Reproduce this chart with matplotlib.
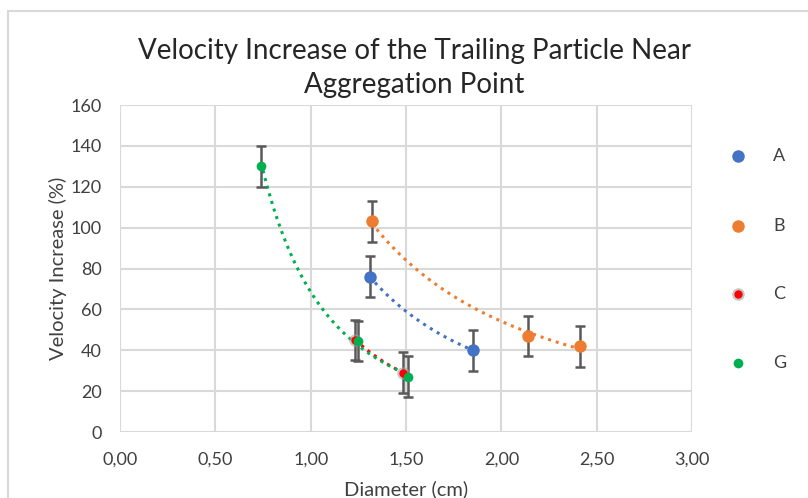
import numpy as np
import matplotlib.pyplot as plt
from matplotlib.patches import Rectangle

plt.rcParams['font.family'] = ['Lato', 'DejaVu Sans']

# data
a_x = [1.31, 1.85]
a_y = [76, 40]
b_x = [1.32, 2.14, 2.41]
b_y = [103, 47, 42]
c_x = [1.235, 1.485]
c_y = [45, 29]
g_x = [0.74, 1.25, 1.51]
g_y = [130, 44.5, 27]
err = 10

series = [
    ('A', a_x, a_y, '#4472c4', 9),
    ('B', b_x, b_y, '#ed7d31', 9),
    ('C', c_x, c_y, '#ff0000', 6),
    ('G', g_x, g_y, '#00b050', 7),
]

fig = plt.figure(figsize=(8.08, 4.98), dpi=100)
fig.patches.append(Rectangle((8 / 808, -0.1), 1.2, 1.1 - 11 / 498,
                             transform=fig.transFigure, fill=False,
                             edgecolor='#d9d9d9', linewidth=1.5))
ax = fig.add_axes([120 / 808, 1 - 432 / 498, (692 - 120) / 808, (432 - 105) / 498])

for name, xs, ys, col, ms in series:
    xs = np.array(xs)
    ys = np.array(ys)
    # power trendline
    k, c = np.polyfit(np.log(xs), np.log(ys), 1)
    xx = np.linspace(xs.min(), xs.max(), 100)
    ax.plot(xx, np.exp(c) * xx ** k, linestyle=(0, (1, 1.6)), color=col,
            linewidth=2.2, zorder=3)
    ax.errorbar(xs, ys, yerr=err, fmt='none', ecolor='#595959',
                elinewidth=1.8, capsize=3.8, capthick=1.8, zorder=4)
    if name == 'C':
        ax.plot(xs, ys, 'o', color='#a0a0a0', markersize=ms + 3, alpha=0.6,
                markeredgewidth=0, zorder=5)
    ax.plot(xs, ys, 'o', color=col, markersize=ms, markeredgewidth=0, zorder=6)

ax.set_xlim(0, 3)
ax.set_ylim(0, 160)
ax.set_xticks(np.arange(0, 3.01, 0.5))
ax.set_xticklabels([('%.2f' % v).replace('.', ',') for v in np.arange(0, 3.01, 0.5)])
ax.set_yticks(np.arange(0, 161, 20))
for s in ax.spines.values():
    s.set_visible(False)
ax.grid(True, color='#d9d9d9', linewidth=1.5, zorder=0)
ax.set_axisbelow(True)
ax.tick_params(length=0, labelsize=13, colors='#404040')
ax.tick_params(axis='y', pad=13)
ax.tick_params(axis='x', pad=14)
for lab in ax.get_xticklabels() + ax.get_yticklabels():
    lab.set_clip_on(False)

ax.set_xlabel('Diameter (cm)', fontsize=14.5, color='#404040', labelpad=9)
ax.set_ylabel('Velocity Increase (%)', fontsize=14.5, color='#404040', labelpad=3)
fig.text(414.5 / 808, 1 - 68 / 498,
         'Velocity Increase of the Trailing Particle Near\nAggregation Point',
         ha='center', va='center', fontsize=20, color='#262626', linespacing=1.42)

# legend drawn by hand on the right
leg_y = [156, 226, 294, 363]
for (name, xs, ys, col, ms), py in zip(series, leg_y):
    yf = 1 - py / 498
    if name == 'C':
        fig.add_artist(plt.Line2D([738 / 808], [yf], marker='o', color='#a0a0a0',
                                  markersize=ms + 3, alpha=0.6, markeredgewidth=0,
                                  linestyle='none'))
    fig.add_artist(plt.Line2D([738 / 808], [yf], marker='o', color=col,
                              markersize=ms, markeredgewidth=0, linestyle='none'))
    fig.text(773 / 808, yf, name, ha='left', va='center', fontsize=13, color='#404040')

fig.savefig('out.png', dpi=100)
